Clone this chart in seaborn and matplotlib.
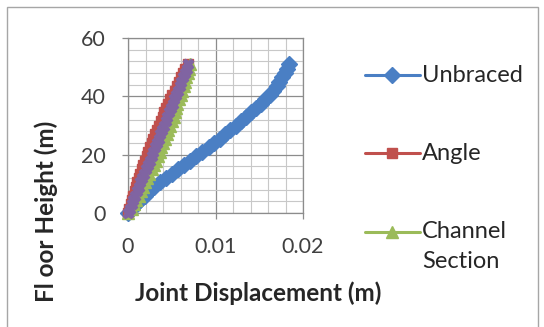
import matplotlib
matplotlib.use("Agg")
import matplotlib.pyplot as plt
from matplotlib.ticker import MultipleLocator, FuncFormatter
from matplotlib.lines import Line2D
from matplotlib.patches import Rectangle
import seaborn as sns
import pandas as pd

# Joint levels (m) and lateral joint displacement (m) for each frame type
floor_height = [0, 1.5, 3, 4.5, 6, 7.5, 9, 10.5, 12, 13.5, 15, 16.5, 18, 19.5, 21, 22.5,
                24, 25.5, 27, 28.5, 30, 31.5, 33, 34.5, 36, 37.5, 39, 40.5, 42, 43.5,
                45, 46.5, 48, 49.5, 51]
unbraced = [0, 0.00045, 0.0009, 0.0014, 0.0019, 0.00245, 0.0030, 0.00365, 0.0043, 0.0050,
            0.0057, 0.0064, 0.0071, 0.0078, 0.0085, 0.0092, 0.0098, 0.0105, 0.0111, 0.0117,
            0.0123, 0.0129, 0.0135, 0.0141, 0.0146, 0.0152, 0.0157, 0.0162, 0.0166, 0.0170,
            0.0173, 0.0176, 0.0179, 0.0182, 0.0184]
angle = [0, 0.00014, 0.00029, 0.00044, 0.0006, 0.00075, 0.00091, 0.00108, 0.00125, 0.00142,
         0.00159, 0.00177, 0.00195, 0.00213, 0.00232, 0.00251, 0.00271, 0.00291, 0.00311,
         0.00331, 0.00352, 0.00373, 0.00395, 0.00417, 0.00439, 0.00462, 0.00485, 0.00508,
         0.00532, 0.00556, 0.0058, 0.00604, 0.00629, 0.00654, 0.0068]
channel_section = [0, 0.0004, 0.0007, 0.00095, 0.0012, 0.00145, 0.0017, 0.00195, 0.0022,
                   0.00245, 0.0027, 0.00295, 0.0032, 0.0034, 0.0036, 0.0038, 0.0040, 0.0042,
                   0.0044, 0.0046, 0.0048, 0.0050, 0.0052, 0.00535, 0.0055, 0.00565, 0.0058,
                   0.0060, 0.0062, 0.00635, 0.0065, 0.00665, 0.0068, 0.00695, 0.0071]
series4 = [0, 0.0002, 0.0004, 0.0006, 0.0008, 0.0010, 0.0012, 0.0014, 0.0016, 0.00185,
           0.0021, 0.0023, 0.0025, 0.0027, 0.0029, 0.0031, 0.0033, 0.0035, 0.0037, 0.0039,
           0.0041, 0.0043, 0.0045, 0.0047, 0.0049, 0.0051, 0.0053, 0.0055, 0.0057, 0.0059,
           0.0061, 0.0063, 0.0065, 0.0067, 0.0069]

series_names = ["Unbraced", "Angle", "Channel Section", "Series4"]
legend_labels = ["Unbraced", "Angle", "Channel\nSection"]
series_values = [unbraced, angle, channel_section, series4]
colors = ["#4A7FC4", "#C0504D", "#9BBB59", "#8064A2"]
markers = ["D", "s", "^", "X"]
marker_sizes = [8.0, 7.5, 8.5, 7.5]

frames = []
for name, vals in zip(series_names, series_values):
    frames.append(pd.DataFrame({"series": name, "height": floor_height, "disp": vals}))
df = pd.concat(frames, ignore_index=True)

sns.set_theme(style="white")
plt.rcParams["font.family"] = ["Lato", "DejaVu Sans"]

W, H = 544, 327
fig = plt.figure(figsize=(W / 100, H / 100), dpi=100)
ax = fig.add_axes([128 / W, (H - 213) / H, 175 / W, 175 / H])

sns.lineplot(data=df, x="disp", y="height", hue="series", style="series",
             hue_order=series_names, style_order=series_names,
             palette=dict(zip(series_names, colors)),
             markers=dict(zip(series_names, markers)), dashes=False,
             sort=False, estimator=None, orient="y", lw=2.2,
             legend=False, ax=ax, clip_on=False, zorder=3)
for line, c, ms in zip(ax.lines, colors, marker_sizes):
    line.set_markeredgecolor(c)
    line.set_markerfacecolor(c)
    line.set_markeredgewidth(1.0)
    line.set_markersize(ms)

ax.set_xlim(0, 0.02)
ax.set_ylim(0, 60)
ax.xaxis.set_major_locator(MultipleLocator(0.01))
ax.xaxis.set_minor_locator(MultipleLocator(0.002))
ax.yaxis.set_major_locator(MultipleLocator(20))
ax.yaxis.set_minor_locator(MultipleLocator(4))
ax.xaxis.set_major_formatter(FuncFormatter(lambda v, _: "0" if abs(v) < 1e-12 else f"{v:.2f}"))
ax.grid(which="major", color="#8C8C8C", lw=0.9)
ax.grid(which="minor", color="#C8C8C8", lw=0.8)
ax.set_axisbelow(True)
for s in ax.spines.values():
    s.set_color("#8C8C8C")
    s.set_linewidth(0.9)
ax.tick_params(axis="both", which="major", length=4, width=0.9, color="#8C8C8C",
               labelsize=15.5, labelcolor="#404040", direction="out")
ax.tick_params(axis="x", pad=13)
ax.tick_params(axis="y", pad=12)
ax.tick_params(which="minor", length=0)
ax.tick_params(bottom=True, left=True)

ax.set_xlabel("Joint Displacement (m)", fontsize=17.5, fontweight="bold", color="#262626")
ax.xaxis.set_label_coords((258 - 128) / 175, (213 - 293) / 175)
ax.xaxis.label.set_va("center")
ax.set_ylabel("Fl oor Height (m)", fontsize=17.5, fontweight="bold", color="#262626")
ax.yaxis.set_label_coords((46 - 128) / 175, (213 - 211) / 175)
ax.yaxis.label.set_va("center")
ax.yaxis.label.set_ha("center")

# Legend entries placed to the right of the plot area
legend_y = [75, 153, 232]
for lab, c, m, ms, y in zip(legend_labels, colors, markers, marker_sizes, legend_y):
    fig.add_artist(Line2D([365 / W, 420 / W], [1 - y / H, 1 - y / H], color=c, lw=2.2,
                          transform=fig.transFigure))
    fig.add_artist(Line2D([392 / W], [1 - y / H], color=c, marker=m, markersize=ms,
                          mec=c, mfc=c, transform=fig.transFigure))
    for k, part in enumerate(lab.split("\n")):
        fig.text(422 / W, 1 - (y + 30 * k) / H, part, fontsize=17, color="#262626",
                 ha="left", va="center", transform=fig.transFigure)

# Chart area border
fig.add_artist(Rectangle((7 / W, -0.05), (538 - 7) / W, 1.05 - 7 / H, fill=False,
                         ec="#A6A6A6", lw=1.0, transform=fig.transFigure))

fig.savefig("out.png", dpi=100)
